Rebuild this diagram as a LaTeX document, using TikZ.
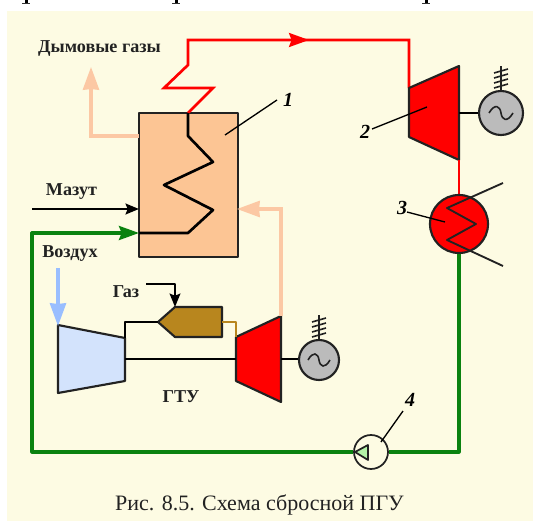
\documentclass[tikz,border=0pt]{standalone}
\usepackage{fontspec}
\setmainfont{Liberation Serif}
\usetikzlibrary{arrows.meta}
\definecolor{bgcream}{HTML}{FDFBE3}
\definecolor{boilerfill}{HTML}{FCC594}
\definecolor{flue}{HTML}{FCC8A4}
\definecolor{steam}{HTML}{FF0000}
\definecolor{water}{HTML}{0A820F}
\definecolor{airfill}{HTML}{D3E3FC}
\definecolor{airline}{HTML}{99BEFF}
\definecolor{burner}{HTML}{B8861E}
\definecolor{gengray}{HTML}{BBBBBB}
\definecolor{ink}{HTML}{222222}
\definecolor{pumpfill}{HTML}{B4F4A8}
\tikzset{
  x=0.75pt,y=-0.75pt,
  part/.style={draw=ink,line width=1.6pt,line join=round},
  blk/.style={draw=black,line width=2pt,line join=round},
  leader/.style={draw=black,line width=1pt},
  pipered/.style={draw=steam,line width=2pt,line join=miter},
  pipegreen/.style={draw=water,line width=2.4pt,line join=round},
  pipeflue/.style={draw=flue,line width=2.4pt},
  bigtip/.style={-{Stealth[length=17pt,width=12pt,inset=0.5pt]}},
  midtip/.style={-{Stealth[length=10pt,width=8pt,inset=1.5pt]}},
  lbl/.style={font=\fontsize{13.6}{15}\selectfont\bfseries,text=ink,inner sep=0pt},
  num/.style={font=\fontsize{15}{17}\selectfont\bfseries\itshape,text=black,inner sep=0pt},
  gen/.style={circle,draw=ink,line width=1.6pt,fill=gengray,inner sep=0pt,minimum size=#1*0.75pt},
  wave/.style={draw=ink,line width=1.2pt},
}
\newcommand{\antenna}[2]{% x, y of base
  \draw[draw=ink,line width=1.2pt] (#1,#2) -- (#1,#2-25);
  \foreach \d in {5,10,15,20}{\draw[draw=ink,line width=1.2pt] (#1-7,#2-\d+2) -- (#1+7,#2-\d-2);}
}
\begin{document}
\begin{tikzpicture}
\useasboundingbox (0,0) rectangle (533,521);
\fill[white] (0,0) rectangle (533,521);
\fill[bgcream] (7,11) rectangle (533,521);
% remains of the cropped line of text above the figure
\foreach \x in {26,176,426}{
  \fill[black] (\x-1.5,0) rectangle (\x+1.5,3);
  \fill[black!80] (\x-4,3) rectangle (\x+4,4.2);
}

% named anchors
\coordinate (mazutS) at (32,209);
\coordinate (mazutE) at (139,209);
\coordinate (flueS) at (139,136);
\coordinate (flueC) at (91,136);
\coordinate (flueE) at (91,67);
\coordinate (airS) at (58,268);
\coordinate (airE) at (58,326);
\coordinate (gasS) at (146,284);
\coordinate (gasC) at (175,284);
\coordinate (gasE) at (175,307);

% boiler
\node[part,fill=boilerfill,minimum width=74pt,minimum height=108pt,inner sep=0pt] (boiler) at (188.5,185) {};

% flue exit
\draw[pipeflue] (flueS) -- (flueC) -- (91,80);
\draw[flue,line width=2.4pt,bigtip] (flueC) -- (flueE);

% fuel
\draw[blk,midtip] (mazutS) -- (mazutE);

% steam line
\coordinate (s0) at (188,113);
\coordinate (s1) at (213,88);
\coordinate (s2) at (164,88);
\coordinate (s3) at (188,65);
\coordinate (s4) at (188,40);
\coordinate (s5) at (409,40);
\coordinate (s6) at (409,88);
\draw[pipered] (s0) -- (s1) -- (s2) -- (s3) -- (s4) -- (s5) -- (s6);
\draw[steam,-{Stealth[length=15pt,width=10.5pt,inset=2pt]},line width=2pt] (285,40) -- (309,40);

% coil in boiler
\draw[blk] (s0) -- (188,136) -- (213,162) -- (164,185) -- (213,210) -- (188,233) -- (139,233);

% steam turbine
\coordinate (t1) at (409,88);
\coordinate (t2) at (459,66);
\coordinate (t3) at (459,160);
\coordinate (t4) at (409,137);
\draw[part,fill=steam] (t1) -- (t2) -- (t3) -- (t4) -- cycle;
\node[gen=44] (g1) at (501,113) {};
\draw[blk,line width=1.6pt] (459,113) -- (g1.west);
\draw[wave] (489,113) .. controls (495,103) and (500,106) .. (501,113) .. controls (502,120) and (507,123) .. (513,113);
\antenna{501}{91}

% condenser
\draw[pipered] (t3) -- (459,196);
\node[circle,draw=ink,line width=1.6pt,fill=steam,minimum size=43.5pt,inner sep=0pt] (cond) at (459,224) {};
\draw[part,line width=1.4pt] (503,183) -- (447,208) -- (476,224) -- (447,240) -- (503,266);

% water line and pump
\node[circle,draw=ink,line width=1.3pt,fill=bgcream,minimum size=25.5pt,inner sep=0pt] (pump) at (371,452) {};
\draw[pipegreen] (cond.south) -- (459,452) -- (pump.east);
\draw[pipegreen] (pump.west) -- (32,452) -- (32,233) -- (120,233);
\draw[water,line width=2.4pt,-{Stealth[length=15pt,width=10.5pt,inset=2pt]}] (116,233) -- (139,233);
\draw[part,line width=1.3pt,fill=pumpfill] (355,452) -- (368,445) -- (368,460) -- cycle;

% gas turbine set
\draw[part,fill=airfill] (58,325) -- (125,338) -- (125,381) -- (58,393) -- cycle;
\draw[part,fill=steam] (236,337) -- (281,316) -- (281,402) -- (236,381) -- cycle;
\draw[part,fill=burner] (158,322) -- (175,307) -- (222,307) -- (222,337) -- (175,337) -- cycle;
\coordinate (b1) at (222,322);
\draw[burner,line width=2pt,line join=round] (b1) -- (236,322) -- (236,337);
\draw[blk] (125,338) -- (125,322) -- (158,322);
\draw[blk] (125,359) -- (236,359);
\draw[blk,line width=1.6pt] (281,359) -- (299,359);
\node[gen=40] (g2) at (319,360) {};
\draw[wave] (308,360) .. controls (313,351) and (318,353) .. (319,360) .. controls (320,367) and (325,369) .. (330,360);
\antenna{319}{340}

% exhaust to boiler
\draw[pipeflue] (281,316) -- (281,209) -- (255,209);
\draw[flue,line width=2.4pt,bigtip] (262,209) -- (237,209);

% air and gas
\draw[airline,line width=2.4pt,bigtip] (airS) -- (airE);
\draw[blk,line width=1.6pt,midtip] (gasS) -- (gasC) -- (gasE);

% leaders
\draw[leader] (225,135) -- (277,100);
\draw[leader] (372,129) -- (427,107);
\draw[leader] (407,212) -- (445,222);
\draw[leader] (381,442) -- (403,411);

% labels
\node[lbl] (tflue) at (99.5,48) {Дымовые газы};
\node[lbl] (tmaz) at (71.5,192) {Мазут};
\node[lbl] (tair) at (70,254) {Воздух};
\node[lbl] (tgas) at (126,292) {Газ};
\node[lbl] (tgtu) at (181,397) {ГТУ};
\node[num] (n1) at (288,100) {1};
\node[num] (n2) at (365,132) {2};
\node[num] (n3) at (402,208) {3};
\node[num] (n4) at (410,400) {4};
\node[font=\fontsize{16.5}{18}\selectfont,text=ink,inner sep=0pt] (cap) at (259.5,505) {Рис. 8.5. Схема сбросной ПГУ};
\end{tikzpicture}
\end{document}
